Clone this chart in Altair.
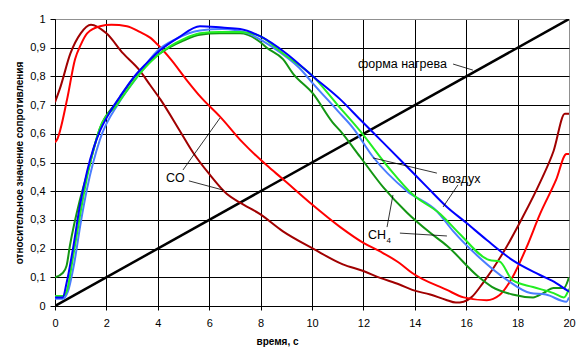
import altair as alt
import pandas as pd

# ---- data ----
heat_x = [0, 20]
heat_y = [0, 1]

darkred_x = [0, 0.2, 0.6, 1.0, 1.4, 2.0, 2.65, 3.3, 3.7, 4.1, 4.86, 5.37, 6.0, 6.69, 7.2, 7.98, 8.87, 10.04, 11.2, 12.0, 12.65, 13.4, 13.9, 14.6, 15.2, 15.6, 15.9, 16.2, 16.65, 17.4, 18.2, 18.87, 19.4, 19.84, 20]
darkred_y = [0.71, 0.76, 0.88, 0.95, 0.98, 0.95, 0.88, 0.82, 0.77, 0.72, 0.61, 0.535, 0.46, 0.39, 0.36, 0.32, 0.26, 0.20, 0.145, 0.122, 0.098, 0.075, 0.056, 0.04, 0.022, 0.012, 0.015, 0.03, 0.08, 0.18, 0.31, 0.43, 0.54, 0.67, 0.67]

red_x = [0, 0.08, 0.47, 0.78, 1.0, 1.25, 1.75, 2.2, 2.8, 3.3, 3.7, 4.0, 4.5, 5.1, 5.7, 6.42, 7.3, 8.24, 8.83, 9.92, 11.1, 12.0, 12.65, 13.4, 13.9, 15.25, 15.9, 16.8, 17.3, 17.8, 18.35, 18.87, 19.5, 19.9, 20]
red_y = [0.57, 0.58, 0.72, 0.86, 0.91, 0.95, 0.975, 0.98, 0.975, 0.955, 0.935, 0.91, 0.86, 0.79, 0.725, 0.66, 0.57, 0.49, 0.445, 0.36, 0.275, 0.22, 0.19, 0.15, 0.115, 0.056, 0.03, 0.02, 0.038, 0.10, 0.205, 0.32, 0.44, 0.53, 0.53]

darkgreen_x = [0, 0.3, 0.45, 0.58, 0.97, 1.25, 1.75, 2.4, 3.3, 4.08, 5.0, 5.64, 6.4, 7.2, 7.98, 8.24, 8.87, 9.26, 10.04, 10.8, 11.1, 11.87, 12.76, 13.7, 14.6, 15.25, 16.5, 17.0, 17.8, 18.6, 19.0, 19.4, 19.8, 20]
darkgreen_y = [0.10, 0.115, 0.14, 0.21, 0.37, 0.46, 0.62, 0.71, 0.82, 0.88, 0.925, 0.945, 0.95, 0.95, 0.92, 0.90, 0.86, 0.81, 0.74, 0.64, 0.61, 0.52, 0.415, 0.325, 0.255, 0.21, 0.10, 0.067, 0.04, 0.03, 0.045, 0.063, 0.063, 0.10]

lightblue_x = [0, 0.3, 0.5, 0.75, 1.0, 1.25, 1.75, 2.5, 3.3, 3.7, 4.0, 4.7, 5.64, 6.5, 7.5, 8.5, 9.5, 10.04, 11.0, 11.6, 12.37, 13.7, 14.86, 15.5, 16.5, 17.6, 18.5, 19.1, 19.9, 20]
lightblue_y = [0.025, 0.025, 0.05, 0.15, 0.29, 0.41, 0.58, 0.71, 0.81, 0.86, 0.89, 0.93, 0.96, 0.965, 0.95, 0.90, 0.83, 0.775, 0.68, 0.62, 0.52, 0.40, 0.33, 0.26, 0.17, 0.09, 0.045, 0.04, 0.015, 0.03]

lime_x = [0, 0.3, 0.45, 0.7, 1.0, 1.25, 1.75, 2.4, 3.3, 4.08, 5.0, 5.64, 6.4, 7.2, 7.98, 8.87, 10.04, 11.0, 11.87, 13.0, 13.9, 15.0, 15.76, 16.9, 17.3, 17.8, 18.6, 19.4, 19.8, 20]
lime_y = [0.035, 0.035, 0.05, 0.17, 0.33, 0.45, 0.62, 0.70, 0.81, 0.88, 0.93, 0.95, 0.955, 0.955, 0.94, 0.88, 0.80, 0.70, 0.61, 0.48, 0.39, 0.32, 0.25, 0.16, 0.155, 0.09, 0.066, 0.045, 0.03, 0.06]

blue_x = [0, 0.3, 0.45, 0.7, 0.97, 1.25, 1.5, 1.75, 2.1, 2.53, 3.0, 3.5, 4.08, 4.8, 5.64, 6.5, 7.2, 7.98, 9.0, 10.04, 11.1, 11.87, 12.76, 13.7, 14.47, 15.25, 16.0, 16.8, 17.8, 18.87, 19.5, 19.9, 20]
blue_y = [0.03, 0.03, 0.08, 0.2, 0.35, 0.47, 0.55, 0.61, 0.67, 0.73, 0.79, 0.84, 0.89, 0.935, 0.975, 0.97, 0.965, 0.94, 0.88, 0.80, 0.72, 0.65, 0.57, 0.485, 0.415, 0.345, 0.29, 0.23, 0.16, 0.108, 0.08, 0.056, 0.05]

# annotation texts and their leader lines
label_text = ["форма нагрева", "CO", "воздух", "CH"]
label_x = [11.79, 4.32, 15.06, 12.18]
label_y = [0.843, 0.446, 0.443, 0.247]
sub_text = ["4"]
sub_x = [12.9]
sub_y = [0.228]

lead_x1 = [15.49, 4.98, 5.21, 14.86, 15.68, 12.92, 13.42]
lead_y1 = [0.843, 0.474, 0.436, 0.463, 0.422, 0.275, 0.254]
lead_x2 = [16.26, 6.42, 6.54, 12.37, 15.10, 13.15, 15.25]
lead_y2 = [0.822, 0.655, 0.404, 0.516, 0.345, 0.387, 0.244]

x_ticks = list(range(0, 21, 2))
y_ticks = [round(i * 0.1, 1) for i in range(11)]

FONT = "Liberation Sans"

x_enc = alt.X(
    "x:Q",
    scale=alt.Scale(domain=[0, 20], nice=False, zero=False),
    axis=alt.Axis(
        values=x_ticks, title="время, с", titleFontWeight="bold", titleFontSize=10,
        titleFont=FONT, titleColor="black", titleX=222, titleY=35,
        titleAlign="center", titleBaseline="middle",
        labelFont=FONT, labelFontSize=11, labelColor="black", labelPadding=7,
        tickSize=4, tickColor="black", domainColor="black",
        grid=True, gridOpacity=1, gridWidth=1,
        gridColor={"condition": {"test": "datum.value >= 20", "value": "#909090"}, "value": "black"},
        labelFlush=False,
    ),
)
y_enc = alt.Y(
    "y:Q",
    scale=alt.Scale(domain=[0, 1], nice=False, zero=False),
    axis=alt.Axis(
        values=y_ticks, title="относительное значение сопротивления",
        titleFontWeight="bold", titleFontSize=10, titleFont=FONT, titleColor="black",
        titleX=-36, titleY=143.5, titleAlign="center", titleBaseline="middle", titleAngle=-90,
        labelFont=FONT, labelFontSize=11, labelColor="black", labelPadding=5,
        labelExpr="datum.value == 0 ? '0' : datum.value == 1 ? '1' : replace(format(datum.value, '.1f'), '.', ',')",
        tickSize=5, tickColor="black", domainColor="black",
        grid=True, gridOpacity=1, gridWidth=1,
        gridColor={"condition": {"test": "datum.value >= 1", "value": "#909090"}, "value": "black"},
        labelFlush=False,
    ),
)

series = [
    (heat_x, heat_y, "#000000", 2.5),
    (darkred_x, darkred_y, "#A00000", 2),
    (red_x, red_y, "#FF0000", 2),
    (darkgreen_x, darkgreen_y, "#139613", 2),
    (lightblue_x, lightblue_y, "#4A7DFF", 2),
    (lime_x, lime_y, "#22EE22", 2),
    (blue_x, blue_y, "#0000FF", 2),
]

layers = []
for xs, ys, color, w in series:
    df = pd.DataFrame({"x": xs, "y": ys})
    layers.append(
        alt.Chart(df).mark_line(color=color, strokeWidth=w, interpolate="monotone", clip=True)
        .encode(x=x_enc, y=y_enc)
    )

leads = pd.DataFrame({"x": lead_x1, "y": lead_y1, "x2": lead_x2, "y2": lead_y2})
layers.append(
    alt.Chart(leads).mark_rule(color="black", strokeWidth=0.8)
    .encode(x=x_enc, y=y_enc, x2="x2:Q", y2="y2:Q")
)

labels = pd.DataFrame({"x": label_x, "y": label_y, "t": label_text})
layers.append(
    alt.Chart(labels).mark_text(align="left", baseline="middle", font=FONT, fontSize=12.5, color="black")
    .encode(x=x_enc, y=y_enc, text="t:N")
)
subs = pd.DataFrame({"x": sub_x, "y": sub_y, "t": sub_text})
layers.append(
    alt.Chart(subs).mark_text(align="left", baseline="middle", font=FONT, fontSize=8, color="black")
    .encode(x=x_enc, y=y_enc, text="t:N")
)

chart = alt.layer(*layers).properties(
    width=514, height=287,
    padding={"left": 47, "top": 11, "right": 9, "bottom": 46},
    autosize=alt.AutoSizeParams(type="none"),
    background="white",
).configure_view(stroke="#909090", strokeWidth=1)

chart.save("out.html", embed_options={"renderer": "svg", "actions": False})
